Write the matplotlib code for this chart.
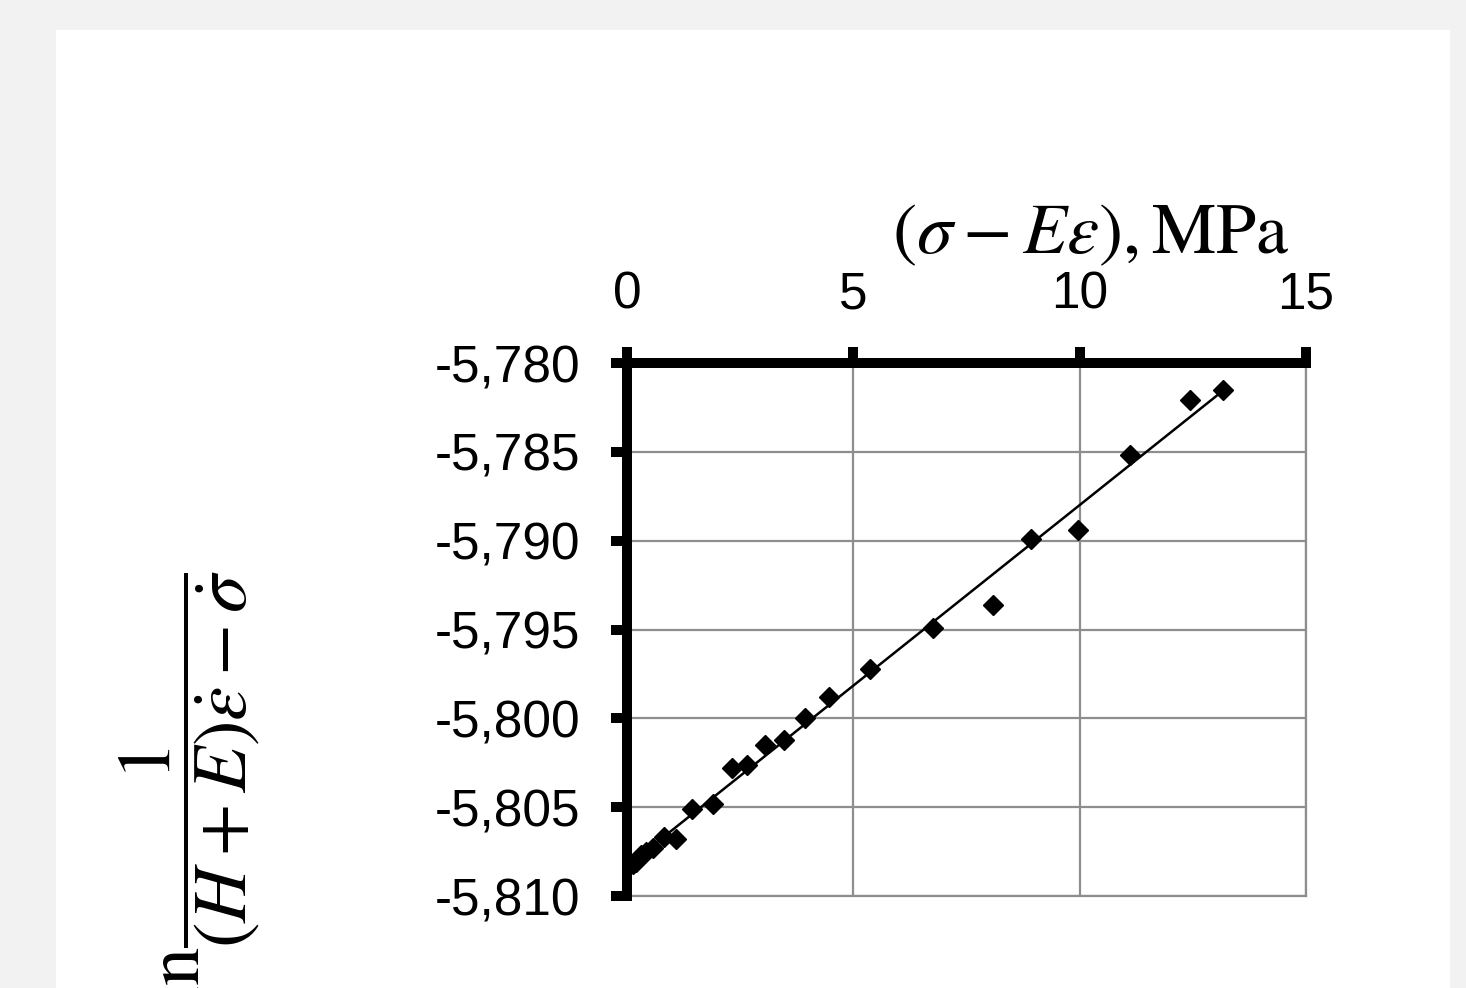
"""
ln(1/((H+E)eps_dot - sigma_dot)) vs (sigma - E eps) — scatter with linear trend
"""
import numpy as np
import matplotlib.pyplot as plt
from matplotlib.patches import Rectangle
from matplotlib.ticker import FuncFormatter

# values
stress_diff = [0.13, 0.20, 0.32, 0.43, 0.58, 0.82, 1.08, 1.43, 1.89, 2.32, 2.66, 3.04,
               3.46, 3.93, 4.46, 5.37, 6.77, 8.08, 8.92, 9.96, 11.11, 12.44, 13.17]
log_rate = [-5.8082, -5.8081, -5.8077, -5.8075, -5.8073, -5.8067, -5.8068, -5.8051,
            -5.8048, -5.8028, -5.8026, -5.8015, -5.8012, -5.8000, -5.7988, -5.7972,
            -5.7949, -5.7936, -5.7899, -5.7894, -5.7852, -5.7821, -5.7815]
x_ticks = [0, 5, 10, 15]
y_ticks = [-5.810, -5.805, -5.800, -5.795, -5.790, -5.785, -5.780]

plt.rcParams['mathtext.fontset'] = 'stix'

fig = plt.figure(figsize=(14.66, 9.88), dpi=100, facecolor='#f2f2f2')
# white panel behind the chart
fig.patches.append(Rectangle((56 / 1466, 0), 1394 / 1466, 958 / 988,
                             transform=fig.transFigure, facecolor='white',
                             edgecolor='none', zorder=-10))

ax = fig.add_axes([627 / 1466, 92 / 988, 679 / 1466, 533 / 988])
ax.set_facecolor('white')

x = np.array(stress_diff)
y = np.array(log_rate)
ax.plot(x, y, 'D', color='black', markersize=10, zorder=4, clip_on=False)

# linear trend line over the data range
k, b = np.polyfit(x, y, 1)
xs = np.array([x.min(), x.max()])
ax.plot(xs, k * xs + b, color='black', lw=1.8, zorder=3)

ax.set_xlim(0, 15)
ax.set_ylim(-5.810, -5.780)
ax.set_xticks(x_ticks)
ax.set_yticks(y_ticks)
ax.xaxis.tick_top()
ax.yaxis.set_major_formatter(FuncFormatter(lambda v, p: f'{v:.3f}'.replace('.', ',')))
ax.grid(True, color='#8e8e8e', lw=1.6)
ax.set_axisbelow(True)

for s in ['left', 'top']:
    ax.spines[s].set_linewidth(7.2)
    ax.spines[s].set_color('black')
    ax.spines[s].set_zorder(5)
for s in ['right', 'bottom']:
    ax.spines[s].set_linewidth(1.6)
    ax.spines[s].set_color('#8e8e8e')

ax.tick_params(axis='both', direction='out', length=11.5, width=7.2, color='black',
               labelsize=37, labelcolor='black')
ax.tick_params(axis='x', pad=20)
ax.tick_params(axis='y', pad=22)
for lab in ax.get_xticklabels() + ax.get_yticklabels():
    lab.set_fontfamily('Liberation Sans')

fig.text(1290 / 1466, (988 - 234) / 988, r'$(\sigma-E\varepsilon),\mathrm{MPa}$',
         ha='right', va='center', fontsize=52)
# the label runs past the bottom edge in the source as well
fig.text(189 / 1466, (988 - 570) / 988,
         r'$\mathrm{ln}\dfrac{1}{(H+E)\dot{\varepsilon}-\dot{\sigma}}$',
         ha='center', va='top', rotation=90, fontsize=55)

fig.savefig('out.png', dpi=100, facecolor=fig.get_facecolor())
